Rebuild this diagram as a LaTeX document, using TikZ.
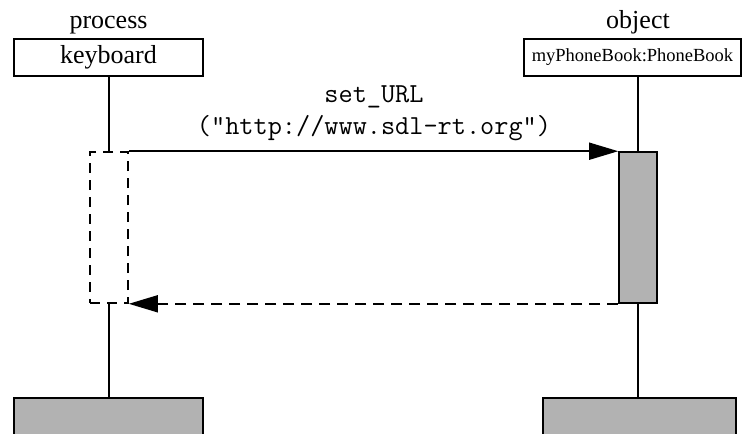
\documentclass[tikz,border=0pt]{standalone}
\usepackage{fontspec}
\setmainfont{Liberation Serif}
\usetikzlibrary{arrows.meta}
\begin{document}
\begin{tikzpicture}[x=1pt,y=-1pt,
  line width=1.6pt,
  headbox/.style={draw, rectangle, inner sep=0pt, minimum width=189pt, minimum height=37pt, font=\fontsize{26}{30}\selectfont},
  titletext/.style={inner sep=0pt, anchor=base, font=\fontsize{26}{30}\selectfont},
  endbox/.style={draw, fill=black!30, rectangle, inner sep=0pt, minimum width=193pt, minimum height=50pt},
  actbox/.style={draw, fill=black!30, rectangle, inner sep=0pt, minimum width=38pt, minimum height=151pt},
  suspbox/.style={draw, dash pattern=on 10pt off 7pt, rectangle, inner sep=0pt, minimum width=38pt, minimum height=151pt},
  msg/.style={-{Triangle[length=29pt,width=17pt]}},
  reply/.style={-{Triangle[length=29pt,width=17pt]}, dash pattern=on 11pt off 7pt}
]
\clip (0,0) rectangle (743,433);
\useasboundingbox (0,0) rectangle (743,433);
% titles
\node[titletext] (ptitle) at (108.5,28.5) {process};
\node[titletext] (otitle) at (638,28.5) {object};
% heads
\node[headbox] (kb) at (108.5,57.5) {keyboard};
\node[headbox, minimum width=217pt, font=\fontsize{18.5}{22}\selectfont] (pb) at (632.5,57.5) {myPhoneBook:PhoneBook};
% suspension / activation
\node[suspbox] (susp) at (109,227.5) {};
\node[actbox] (act) at (638,227.5) {};
% end boxes
\node[endbox, minimum width=189pt] (kbend) at (108.5,423) {};
\node[endbox] (pbend) at (639.5,423) {};
% lifelines
\draw (kb.south -| susp.north) -- (susp.north);
\draw (susp.south) -- (kbend.north -| susp.south);
\draw (pb.south -| act.north) -- (act.north);
\draw (act.south) -- (pbend.north -| act.south);
% messages
\draw[msg] (susp.north east) -- (act.north west);
\draw[reply] (act.south west) -- (susp.south east);
\node[inner sep=0pt, align=center, font=\ttfamily\fontsize{27.5}{32}\selectfont] (lbl) at (374,113) {set\_URL\\("http://www.sdl-rt.org")};
\end{tikzpicture}
\end{document}
